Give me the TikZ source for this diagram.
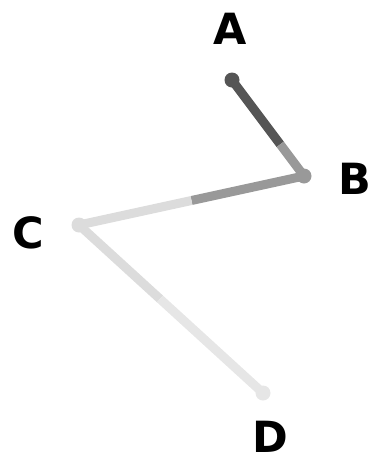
\documentclass[tikz,border=0pt]{standalone}
\usepackage{fontspec}
\setmainfont{DejaVu Sans}
\usetikzlibrary{calc}
\definecolor{ca}{HTML}{555555}
\definecolor{cb}{HTML}{999999}
\definecolor{cc}{HTML}{DCDCDC}
\definecolor{cd}{HTML}{E6E6E6}
\tikzset{
  dot/.style={circle, inner sep=0pt, minimum size=15pt, draw=none},
  lbl/.style={font=\fontsize{43}{43}\selectfont\bfseries, inner sep=0pt},
  half/.style={line width=9pt, line cap=butt}
}
\begin{document}
\begin{tikzpicture}[x=1pt,y=-1pt]
\useasboundingbox (0,0) rectangle (372,464);
\coordinate (A) at (232,80);
\coordinate (B) at (304,176);
\coordinate (C) at (79,225);
\coordinate (D) at (263,393);
\coordinate (mab) at ($(A)!0.67!(B)$);
\coordinate (mbc) at ($(B)!0.5!(C)$);
\coordinate (mcd) at ($(C)!0.44!(D)$);
\draw[half, ca] (A) -- (mab);
\draw[half, cb] (mab) -- (B);
\draw[half, cb] (B) -- (mbc);
\draw[half, cc] (mbc) -- (C);
\draw[half, cc] (C) -- (mcd);
\draw[half, cd] (mcd) -- (D);
\node[dot, fill=ca] (nA) at (A) {};
\node[dot, fill=cb] (nB) at (B) {};
\node[dot, fill=cc] (nC) at (C) {};
\node[dot, fill=cd] (nD) at (D) {};
\node[lbl] (lA) at (230.5,29) {A};
\node[lbl] (lB) at (355,179) {B};
\node[lbl] (lC) at (28,233) {C};
\node[lbl] (lD) at (270,437) {D};
\end{tikzpicture}
\end{document}
